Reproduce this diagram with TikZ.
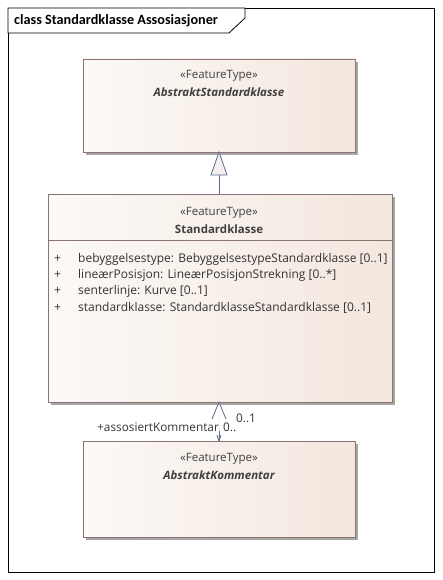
\documentclass[tikz,border=0pt]{standalone}
\usepackage{fontspec}
\setmainfont{Open Sans}
\newfontfamily\titlefont{Carlito}
\usetikzlibrary{arrows.meta,shadows}
\definecolor{boxborder}{HTML}{8A7474}
\definecolor{boxleft}{HTML}{FCF9F7}
\definecolor{boxright}{HTML}{F3E7DE}
\definecolor{linecol}{HTML}{5E6C8C}
\definecolor{trifill}{HTML}{F6EFEE}
\tikzset{
  classbox/.style={draw=boxborder, line width=0.8pt, left color=boxleft, right color=boxright,
    drop shadow={shadow xshift=3pt, shadow yshift=-3pt, fill=black!35, opacity=1}},
  stereo/.style={font=\fontsize{11.5}{13}\selectfont, text=black!75, anchor=base},
  cname/.style={font=\fontsize{11.5}{13}\selectfont\bfseries, text=black!75, anchor=base},
  attr/.style={font=\fontsize{12}{14}\selectfont, text=black!80, anchor=base west, inner sep=0pt},
  lbl/.style={font=\fontsize{11.8}{13}\selectfont, text=black!80, anchor=base west, inner sep=0pt},
}
\begin{document}
\begin{tikzpicture}[x=1pt,y=-1pt]
\useasboundingbox (0,0) rectangle (442,580);
% frame
\draw[line width=0.8pt] (8,8) rectangle (434,572);
\draw[line width=0.8pt, fill=white] (8,8) -- (245,8) -- (245,18) -- (229,33) -- (8,33) -- cycle;
\node[font=\titlefont\fontsize{14.2}{16}\selectfont\bfseries, anchor=base west, inner sep=0pt] (title) at (14,25) {class Standardklasse Assosiasjoner};
% boxes
\path[classbox] (83,59) rectangle (355,152);
\coordinate (absTop) at (219,59);
\coordinate (absBot) at (219,152);
\node[stereo] (s1) at (219,79) {«FeatureType»};
\node[cname, font=\fontsize{11.5}{13}\selectfont\bfseries\itshape] (n1) at (219,97) {AbstraktStandardklasse};

\path[classbox] (48,194) rectangle (392,402);
\draw[boxborder, line width=0.8pt] (48,240) -- (392,240);
\coordinate (stdTop) at (219,194);
\coordinate (stdBot) at (219,402);
\node[stereo] (s2) at (219,215) {«FeatureType»};
\node[cname] (n2) at (219,233) {Standardklasse};
\foreach \t [count=\i] in {bebyggelsestype: BebyggelsestypeStandardklasse [0..1],
  lineærPosisjon: LineærPosisjonStrekning [0..*],
  senterlinje: Kurve [0..1],
  standardklasse: StandardklasseStandardklasse [0..1]} {
  \node[attr] (p\i) at (54,{245.8+\i*16.3}) {+};
  \node[attr] (a\i) at (78,{245.8+\i*16.3}) {\t};
}

\path[classbox] (83,441) rectangle (355,537);
\coordinate (komTop) at (219,441);
\node[stereo] (s3) at (219,461) {«FeatureType»};
\node[cname, font=\fontsize{11.5}{13}\selectfont\bfseries\itshape] (n3) at (219,479) {AbstraktKommentar};

% generalization
\draw[linecol, line width=0.8pt] (219,175) -- (stdTop);
\draw[linecol, line width=0.8pt, fill=trifill] (absBot) -- (227,175) -- (211,175) -- cycle;

% association
\draw[red!6, line width=1pt] (stdBot) -- (komTop);
\draw[linecol, line width=0.8pt] (212,419) -- (stdBot) -- (226,419);
\draw[linecol, line width=0.8pt] (217,435) -- (komTop) -- (221,435);
\draw[linecol, line width=0.8pt] (219,431) -- (komTop);
\node[lbl] (m1) at (236,422) {0..1};
\node[lbl] (r1) at (97,431) {+assosiertKommentar};
\node[lbl] (m2) at (223,431) {0..};
\end{tikzpicture}
\end{document}
